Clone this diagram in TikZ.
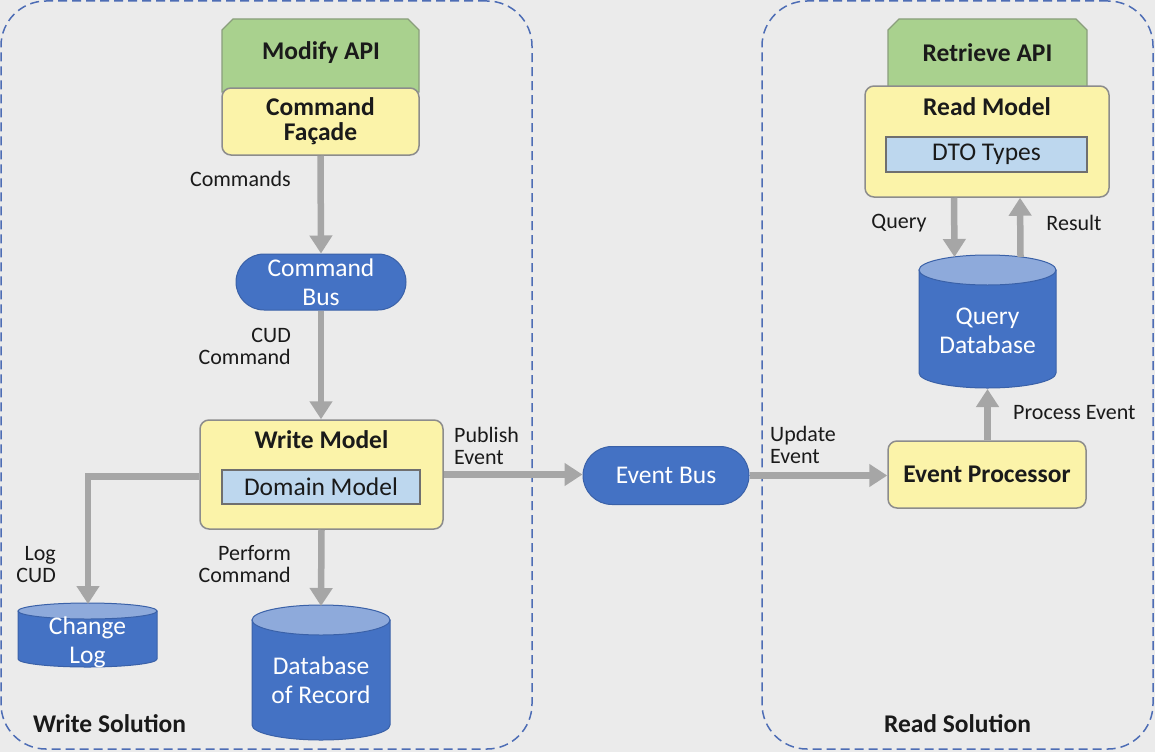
\documentclass[tikz,border=0pt]{standalone}
\usepackage{fontspec}
\setmainfont{Carlito}
\usetikzlibrary{arrows.meta,shapes.misc,calc}
\definecolor{bg}{HTML}{EBEBEB}
\definecolor{regionline}{HTML}{4D6DB5}
\definecolor{yel}{HTML}{FBF3A9}
\definecolor{boxline}{HTML}{8C8C8C}
\definecolor{grn}{HTML}{A9D18E}
\definecolor{grnline}{HTML}{8A9E7C}
\definecolor{lblue}{HTML}{BDD7EE}
\definecolor{innerline}{HTML}{6F6F6F}
\definecolor{dblue}{HTML}{4472C4}
\definecolor{dbline}{HTML}{3A61A8}
\definecolor{dbtopc}{HTML}{8EAADB}
\definecolor{arrgray}{HTML}{A6A6A6}
\definecolor{txt}{HTML}{1A1A1A}
\newcommand\dbcyl[5]{%
  \filldraw[fill=dblue, draw=dbline, line width=1pt] ({#1-#4},#2) -- ({#1-#4},#3)
    arc[start angle=180,end angle=0,x radius=#4,y radius=#5] -- ({#1+#4},#2) -- cycle;
  \filldraw[fill=dbtopc, draw=dbline, line width=1pt] (#1,#2) ellipse[x radius=#4, y radius=#5];}
% chamfered green tab: left x, right x, top y, bottom y
\newcommand\gtab[4]{%
  \filldraw[fill=grn, draw=grnline, line width=1.2pt] (#1,#4) -- (#1,{#3+11}) -- ({#1+11},#3)
    -- ({#2-11},#3) -- (#2,{#3+11}) -- (#2,#4) -- cycle;}
\begin{document}
\begin{tikzpicture}[x=1pt,y=-1pt,
  region/.style={draw=regionline, line width=1.5pt, dash pattern=on 9pt off 5pt, rounded corners=45pt, inner sep=0pt},
  ybox/.style={draw=boxline, line width=1.5pt, fill=yel, rounded corners=9pt, inner sep=0pt, text=txt},
  ibox/.style={draw=innerline, line width=1.5pt, fill=lblue, inner sep=0pt, text=txt, font=\nfont},
  pill/.style={rounded rectangle, fill=dblue, draw=dbline, line width=1pt, text=white, inner sep=0pt, font=\nfont, align=center},
  dbtext/.style={text=white, font=\nfont, align=center, inner sep=0pt},
  ttl/.style={font=\tfont, text=txt, inner sep=0pt, align=center},
  lbl/.style={font=\lfont, text=txt, inner sep=0pt},
  arr/.style={draw=arrgray, line width=6.5pt, -{Triangle[width=22pt,length=18pt]}}
]
\newcommand\tfont{\fontsize{25.5}{25}\selectfont\bfseries}
\newcommand\nfont{\fontsize{25.5}{29}\selectfont}
\newcommand\lfont{\fontsize{22}{22}\selectfont}
\useasboundingbox (0,0) rectangle (1155,752);
\fill[bg] (0,0) rectangle (1155,752);

% regions
\node[region, minimum width=531, minimum height=748] (ws) at (266.5,375) {};
\node[region, minimum width=391, minimum height=748] (rs) at (957.5,375) {};
\node[ttl, anchor=west] (wst) at (33,724) {Write Solution};
\node[ttl] (rst) at (957.5,724) {Read Solution};

% write side
\gtab{222}{419}{19}{92}
\node[ttl] (mapi) at (321,53) {Modify API};
\node[ybox, minimum width=197, minimum height=67, font=\tfont, align=center] (cf) at (320.5,121.5) {Command\\Façade};
\node[lbl, anchor=east] (lcmd) at (291,179) {Commands};
\node[pill, minimum width=170, minimum height=56] (cb) at (321,282) {Command\\Bus};
\node[lbl, anchor=east, align=right] (lcud) at (291,346) {CUD\\Command};
\node[ybox, minimum width=243, minimum height=109] (wm) at (321.5,474.5) {};
\node[ttl] (wmt) at (321.5,440) {Write Model};
\node[ibox, minimum width=198, minimum height=34] (dm) at (321,487) {Domain Model};
\node[lbl, anchor=west, align=left] (lpub) at (454,446) {Publish\\Event};
\node[lbl, anchor=east, align=right] (lperf) at (291,564) {Perform\\Command};
\node[lbl, anchor=east, align=right] (llog) at (56,565) {Log\\CUD};

\dbcyl{87.5}{611}{659}{69.5}{8}
\node[dbtext] (cl) at (87.5,642) {Change\\Log};
\coordinate (cltop) at (88,604);
\dbcyl{321}{620}{725}{69}{15}
\node[dbtext] (dor) at (321,680) {Database\\of Record};
\coordinate (dortop) at (321,606);

% middle
\node[pill, minimum width=166, minimum height=58] (eb) at (666,475.5) {Event Bus};
\node[lbl, anchor=west, align=left] (lupd) at (770,445) {Update\\Event};

% read side
\gtab{888}{1087}{19}{100}
\node[ttl] (rapi) at (987.5,53) {Retrieve API};
\node[ybox, minimum width=244, minimum height=111] (rm) at (987,141.5) {};
\node[ttl] (rmt) at (987,107) {Read Model};
\node[ibox, minimum width=201, minimum height=35] (dto) at (986.5,154.5) {DTO Types};
\node[lbl] (lq) at (899,223) {Query};
\node[lbl] (lr) at (1074,223) {Result};
\dbcyl{987.5}{270}{373}{68.5}{15}
\node[dbtext] (qdb) at (987.5,330.5) {Query\\Database};
\coordinate (qdbtop) at (987.5,257);
\coordinate (qdbbot) at (987.5,389);
\node[ybox, minimum width=198, minimum height=67, font=\tfont] (ep) at (987,474.5) {Event Processor};
\node[lbl, anchor=west] (lproc) at (1013,413) {Process Event};

% connectors
\draw[arr] (cf.south) -- (cb.north);
\draw[arr] (cb.south) -- (wm.north -| cb.south);
\draw[arr] (wm.south) -- (dortop);
\draw[arr] ([yshift=-2pt]wm.west) -| (cltop);
\draw[arr] (wm.east) -- (wm.east -| eb.west);
\draw[arr] (eb.east) -- (eb.east -| ep.west);
\draw[arr] (ep.north -| qdbbot) -- (qdbbot);
\draw[arr] ([xshift=-33pt]rm.south) -- ([xshift=-33pt]qdbtop);
\draw[arr] ([xshift=33pt]qdbtop) -- ([xshift=33pt]rm.south);
\end{tikzpicture}
\end{document}
